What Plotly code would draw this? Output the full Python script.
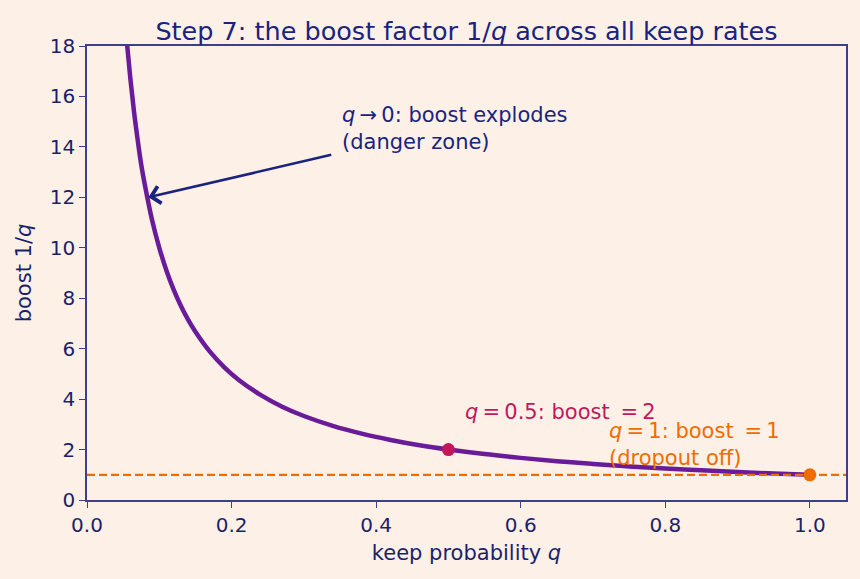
import plotly.graph_objects as go

# keep probability q and boost 1/q
q_vals = [0.050, 0.055, 0.060, 0.065, 0.070, 0.075, 0.080, 0.090, 0.100, 0.110,
          0.120, 0.130, 0.140, 0.150, 0.170, 0.190, 0.210, 0.240, 0.270, 0.300,
          0.340, 0.380, 0.420, 0.460, 0.500, 0.550, 0.600, 0.650, 0.700, 0.750,
          0.800, 0.850, 0.900, 0.950, 1.000]
boost_vals = [20.0, 18.2, 16.7, 15.4, 14.3, 13.3, 12.5, 11.1, 10.0, 9.09,
              8.33, 7.69, 7.14, 6.67, 5.88, 5.26, 4.76, 4.17, 3.70, 3.33,
              2.94, 2.63, 2.38, 2.17, 2.00, 1.82, 1.67, 1.54, 1.43, 1.33,
              1.25, 1.18, 1.11, 1.05, 1.00]

half_q, half_boost = [0.5], [2.0]
full_q, full_boost = [1.0], [1.0]
baseline = 1.0

x_ticks = [0.0, 0.2, 0.4, 0.6, 0.8, 1.0]
x_tick_text = ["0.0", "0.2", "0.4", "0.6", "0.8", "1.0"]
y_ticks = [0, 2, 4, 6, 8, 10, 12, 14, 16, 18]

BG = "#fdf1e7"
NAVY = "#1a237e"
TXT = "#1c1f6b"
SPINE = "#3e3f8c"
PURPLE = "#6a1b9a"
CRIMSON = "#c2185b"
ORANGE = "#ef6c00"
FONT = "DejaVu Sans"

fig = go.Figure()
fig.add_trace(go.Scatter(x=q_vals, y=boost_vals, mode="lines", line=dict(color=PURPLE, width=4.5, shape="spline"),
                         showlegend=False, hoverinfo="skip"))
fig.add_hline(y=baseline, line=dict(color=ORANGE, width=2.3, dash="8px,4px"))
fig.add_trace(go.Scatter(x=half_q, y=half_boost, mode="markers", marker=dict(color=CRIMSON, size=13),
                         showlegend=False, cliponaxis=False))
fig.add_trace(go.Scatter(x=full_q, y=full_boost, mode="markers", marker=dict(color=ORANGE, size=13),
                         showlegend=False, cliponaxis=False))

# arrow
fig.add_annotation(x=0.085, y=12.0, ax=0.34, ay=13.7, xref="x", yref="y", axref="x", ayref="y",
                   text="", showarrow=True, arrowhead=4, arrowsize=1.3, arrowwidth=2.6, arrowcolor=NAVY,
                   standoff=0, startstandoff=0)
fig.add_annotation(x=0.35, y=13.65, xref="x", yref="y", xanchor="left", yanchor="bottom", align="left",
                   text="<i>q</i>\u2009\u2192\u20090: boost explodes<br>(danger zone)", showarrow=False,
                   font=dict(family=FONT, size=21, color=NAVY))
fig.add_annotation(x=0.52, y=2.95, xref="x", yref="y", xanchor="left", yanchor="bottom", align="left",
                   text="<i>q</i>\u2009=\u20090.5: boost \u2009=\u20092", showarrow=False,
                   font=dict(family=FONT, size=21, color=CRIMSON))
fig.add_annotation(x=0.72, y=1.1, xref="x", yref="y", xanchor="left", yanchor="bottom", align="left",
                   text="<i>q</i>\u2009=\u20091: boost \u2009=\u20091<br>(dropout off)", showarrow=False,
                   font=dict(family=FONT, size=21, color=ORANGE))

fig.update_layout(
    width=860, height=579,
    margin=dict(l=87, r=14, t=46, b=79),
    paper_bgcolor=BG, plot_bgcolor=BG,
    font=dict(family=FONT, color=TXT, size=20),
    title=dict(text="Step 7: the boost factor 1/<i>q</i> across all keep rates",
               x=0.5, xref="paper", xanchor="center", y=1, yref="paper", yanchor="bottom",
               pad=dict(b=6), font=dict(family=FONT, size=25.5, color=NAVY)),
    xaxis=dict(range=[0, 1.05], tickvals=x_ticks, ticktext=x_tick_text, showgrid=False, zeroline=False,
               showline=True, linecolor=SPINE, linewidth=1.5, mirror=True,
               ticks="outside", ticklen=6, tickwidth=1.3, tickcolor=SPINE,
               tickfont=dict(size=20, color=TXT),
               title=dict(text="keep probability <i>q</i>", font=dict(size=21, color=TXT), standoff=10)),
    yaxis=dict(range=[0, 18], tickvals=y_ticks, showgrid=False, zeroline=False,
               showline=True, linecolor=SPINE, linewidth=1.5, mirror=True,
               ticks="outside", ticklen=6, tickwidth=1.3, tickcolor=SPINE,
               tickfont=dict(size=20, color=TXT),
               title=dict(text="boost 1/<i>q</i>", font=dict(size=21, color=TXT), standoff=12)),
)

fig.write_html("out.html")
